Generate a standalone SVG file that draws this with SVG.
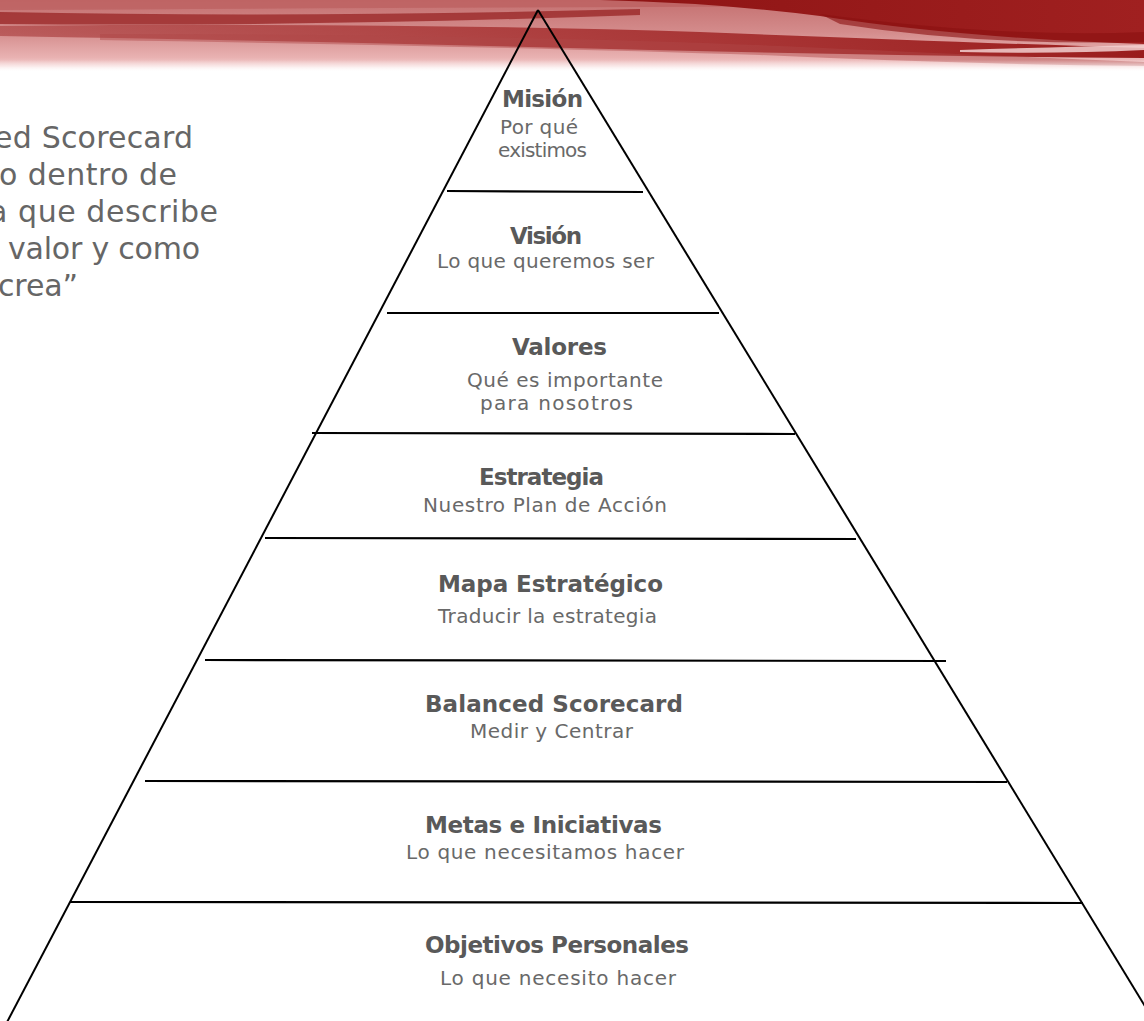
<svg xmlns="http://www.w3.org/2000/svg" width="1144" height="1021" viewBox="0 0 1144 1021">
<defs>
<linearGradient id="base" x1="0" y1="0" x2="0" y2="1">
<stop offset="0" stop-color="#c47070"/>
<stop offset="0.45" stop-color="#d48c8c"/>
<stop offset="0.8" stop-color="#e9b2b2"/>
<stop offset="0.92" stop-color="#f4d2d2"/>
<stop offset="1" stop-color="#ffffff"/>
</linearGradient>
<linearGradient id="swoosh" x1="0" y1="0" x2="1" y2="0">
<stop offset="0" stop-color="#a83a3a" stop-opacity="0.6"/>
<stop offset="0.5" stop-color="#a83434" stop-opacity="0.9"/>
<stop offset="1" stop-color="#9a1c1c" stop-opacity="1"/>
</linearGradient>
<linearGradient id="dark" x1="0" y1="0" x2="1" y2="0">
<stop offset="0" stop-color="#8e1414"/>
<stop offset="1" stop-color="#a02020"/>
</linearGradient>
<linearGradient id="fade" x1="0" y1="0" x2="0" y2="1">
<stop offset="0" stop-color="#ffffff" stop-opacity="0"/>
<stop offset="1" stop-color="#ffffff" stop-opacity="1"/>
</linearGradient>
</defs>
<style>
.edge{stroke:#000;stroke-width:2;fill:none;}
.div{stroke:#000;stroke-width:2.2;fill:none;}
.t{font-family:"DejaVu Sans","Liberation Sans",sans-serif;font-weight:bold;font-size:23px;fill:#595959;}
.s{font-family:"DejaVu Sans","Liberation Sans",sans-serif;font-size:20px;fill:#696969;}
.q{font-family:"DejaVu Sans","Liberation Sans",sans-serif;font-size:30px;fill:#666666;}
</style>
<rect width="1144" height="1021" fill="#ffffff"/>
<g id="banner">
<rect x="0" y="0" width="1144" height="72" fill="url(#base)"/>
<path d="M0,0 H1144 V6 Q700,6 0,10 Z" fill="#bd6262" opacity="0.8"/>
<path d="M0,12 Q300,18 640,9 L640,15 Q300,27 0,24 Z" fill="#9e2e2e" opacity="0.85"/>
<path d="M0,26 Q400,22 700,32 Q950,42 1144,48 L1144,58 Q900,56 650,50 Q350,42 0,36 Z" fill="url(#swoosh)"/>
<path d="M100,34 Q500,34 780,46 Q1000,56 1144,62 L1144,66 Q950,64 760,55 Q480,46 100,40 Z" fill="#b04848" opacity="0.45"/>
<path d="M600,0 H1144 V44 Q960,38 820,16 Q720,3 600,0 Z" fill="url(#dark)"/>
<path d="M820,14 Q1000,38 1144,32 V42 Q980,46 840,24 Z" fill="#8a1010" opacity="0.6"/>
<path d="M960,50 Q1060,47 1144,45 V50 Q1060,54 960,52 Z" fill="#f3d0d0" opacity="0.85"/>
<rect x="0" y="60" width="1144" height="12" fill="url(#fade)"/>
</g>
<g id="quote">
<text class="q" x="-6" y="148" textLength="199" lengthAdjust="spacing">ed Scorecard</text>
<text class="q" x="-1" y="185" textLength="178" lengthAdjust="spacing">o dentro de</text>
<text class="q" x="-11" y="222" textLength="229" lengthAdjust="spacing">a que describe</text>
<text class="q" x="8" y="259" textLength="192" lengthAdjust="spacing">valor y como</text>
<text class="q" x="-2" y="296" textLength="80" lengthAdjust="spacing">crea”</text>
</g>
<g id="pyramid">
<line class="edge" x1="538" y1="10" x2="5" y2="1026"/>
<line class="edge" x1="538" y1="10" x2="1157" y2="1026"/>
</g>
<g id="connectors">
<line class="div" x1="447" y1="191" x2="643" y2="192"/>
<line class="div" x1="387" y1="313" x2="719" y2="313"/>
<line class="div" x1="312" y1="433" x2="795" y2="434"/>
<line class="div" x1="265" y1="538" x2="856" y2="539"/>
<line class="div" x1="205" y1="660" x2="946" y2="661"/>
<line class="div" x1="145" y1="781" x2="1007" y2="782"/>
<line class="div" x1="70" y1="902" x2="1083" y2="903"/>
</g>
<g id="tier-mision">
<text class="t" x="502" y="107" textLength="81">Misión</text>
<text class="s" x="500" y="134" textLength="78">Por qué</text>
<text class="s" x="498" y="157" textLength="89">existimos</text>
</g>
<g id="tier-vision">
<text class="t" x="510" y="244" textLength="72">Visión</text>
<text class="s" x="437" y="268" textLength="217">Lo que queremos ser</text>
</g>
<g id="tier-valores">
<text class="t" x="512" y="355" textLength="95">Valores</text>
<text class="s" x="467" y="387" textLength="196">Qué es importante</text>
<text class="s" x="480" y="410" textLength="153">para nosotros</text>
</g>
<g id="tier-estrategia">
<text class="t" x="479" y="485" textLength="125">Estrategia</text>
<text class="s" x="423" y="512" textLength="244">Nuestro Plan de Acción</text>
</g>
<g id="tier-mapa">
<text class="t" x="438" y="592" textLength="225">Mapa Estratégico</text>
<text class="s" x="438" y="623" textLength="219">Traducir la estrategia</text>
</g>
<g id="tier-bsc">
<text class="t" x="425" y="712" textLength="258">Balanced Scorecard</text>
<text class="s" x="470" y="738" textLength="163">Medir y Centrar</text>
</g>
<g id="tier-metas">
<text class="t" x="425" y="833" textLength="237">Metas e Iniciativas</text>
<text class="s" x="406" y="859" textLength="278">Lo que necesitamos hacer</text>
</g>
<g id="tier-objetivos">
<text class="t" x="425" y="953" textLength="264">Objetivos Personales</text>
<text class="s" x="440" y="985" textLength="236">Lo que necesito hacer</text>
</g>
</svg>
